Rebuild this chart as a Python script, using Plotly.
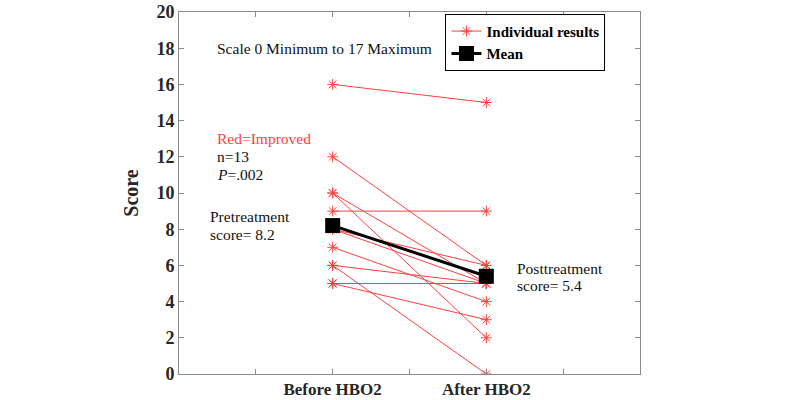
import plotly.graph_objects as go

# Data
categories = ["Before HBO2", "After HBO2"]
cat_pos = [1, 2]
before = [16, 12, 10, 10, 9, 8, 8, 7, 6, 6, 5, 5, 5]
after = [15, 6, 2, 5, 9, 6, 5, 4, 5, 0, 5, 3, 5]
mean_before = 8.2
mean_after = 5.4
y_ticks = list(range(0, 21, 2))
x_ticks = [0, 0.5, 1, 1.5, 2, 2.5, 3]

serif = "Liberation Serif"
red = "#ff4040"

xs, ys = [], []
for b, a in zip(before, after):
    xs += [cat_pos[0], cat_pos[1], None]
    ys += [b, a, None]

fig = go.Figure()
fig.add_trace(go.Scatter(
    x=xs, y=ys, mode="lines+markers", name="<b>Individual results</b>",
    line=dict(color=red, width=1),
    marker=dict(symbol="asterisk-open", size=9, line=dict(color=red, width=1), color=red),
))
fig.add_trace(go.Scatter(
    x=cat_pos, y=[mean_before, mean_after], mode="lines+markers", name="<b>Mean</b>",
    line=dict(color="black", width=3),
    marker=dict(symbol="square", size=15, color="black"),
))

tick_text = {1: categories[0], 2: categories[1]}
axis_col = "#8a8a8a"
fig.update_xaxes(
    range=[0, 3], tickvals=x_ticks,
    ticktext=[tick_text.get(v, "") for v in x_ticks],
    ticks="inside", ticklen=5, tickcolor=axis_col, showline=True, linecolor=axis_col,
    linewidth=1, mirror="ticks", showgrid=False, zeroline=False, automargin=False,
    tickfont=dict(family=serif, size=17, color="#262626", weight="bold"),
)
fig.update_yaxes(
    range=[0, 20], tickvals=y_ticks,
    ticks="inside", ticklen=5, tickcolor=axis_col, showline=True, linecolor=axis_col,
    linewidth=1, mirror="ticks", showgrid=False, zeroline=False, automargin=False,
    ticklabeloverflow="allow",
    tickfont=dict(family=serif, size=18, color="#262626", weight="bold"),
    title=dict(text="<b>Score</b>", font=dict(family=serif, size=20, color="#262626"), standoff=12),
)

notes = [
    (0.25, 18, "Scale 0 Minimum to 17 Maximum", "#111111"),
    (0.25, 13, "Red=Improved", red),
    (0.25, 12, "n=13", "#111111"),
    (0.25, 11, "<i>P</i>=.002", "#111111"),
    (0.2, 8.7, "Pretreatment", "#111111"),
    (0.2, 7.7, "score= 8.2", "#111111"),
    (2.2, 5.85, "Posttreatment", "#111111"),
    (2.2, 4.9, "score= 5.4", "#111111"),
]
for x, y, t, c in notes:
    fig.add_annotation(x=x, y=y, text=t, showarrow=False, xanchor="left", yanchor="middle",
                       xshift=-2, font=dict(family=serif, size=15.5, color=c))

fig.update_layout(
    width=800, height=400,
    margin=dict(l=179, r=160, t=12, b=26),
    plot_bgcolor="white", paper_bgcolor="white",
    legend=dict(x=0.578, y=0.995, xanchor="left", yanchor="top",
                bgcolor="white", bordercolor="black", borderwidth=1,
                font=dict(family=serif, size=15, color="black"),
                itemwidth=30, tracegroupgap=0),
    font=dict(family=serif),
)

fig.write_html("out.html", config={"displayModeBar": False},
               post_script="document.body.style.margin='0';document.body.style.padding='0';")
